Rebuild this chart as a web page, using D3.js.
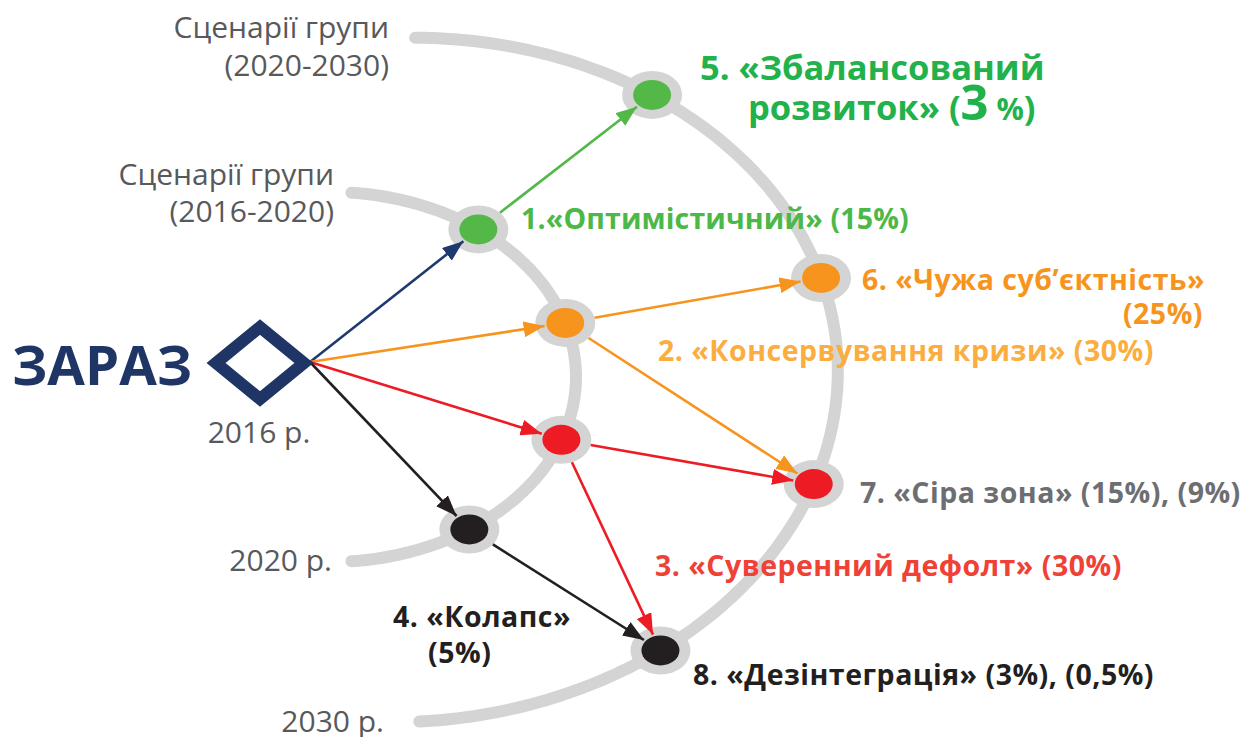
<!DOCTYPE html>
<html>
<head>
<meta charset="utf-8">
<script src="https://cdn.jsdelivr.net/npm/d3@7"></script>
<style>
  body { margin: 0; background: #fff; }
  text { font-family: "Open Sans", sans-serif; }
</style>
</head>
<body>
<div id="chart"></div>
<script>
// ---- data ----
const scenarioIds = [1, 2, 3, 4, 5, 6, 7, 8];
const scenarioGroup = [0, 0, 0, 0, 1, 1, 1, 1];   // 0: 2016-2020, 1: 2020-2030
const scenarioLabels = [
  ["1.«Оптимістичний» (15%)"],
  ["2. «Консервування кризи» (30%)"],
  ["3. «Суверенний дефолт» (30%)"],
  ["4. «Колапс»", "(5%)"],
  ["5. «Збалансований", "розвиток» (3 %)"],
  ["6. «Чужа суб’єктність»", "(25%)"],
  ["7. «Сіра зона» (15%), (9%)"],
  ["8. «Дезінтеграція» (3%), (0,5%)"]
];
const linkSource = [0, 0, 0, 0, 1, 2, 2, 3, 3, 4];  // 0 = ЗАРАЗ
const linkTarget = [1, 2, 3, 4, 5, 6, 7, 7, 8, 8];
const groupTitles = [["Сценарії групи", "(2016-2020)"], ["Сценарії групи", "(2020-2030)"]];
const yearLabels = ["2016 р.", "2020 р.", "2030 р."];
const startLabel = "ЗАРАЗ";

// ---- layout / style ----
const W = 1250, H = 737;
const rings = [
  { cx: 330, cy: 377, rx: 246, ry: 185, rot: 0, from: -85, to: 85 },
  { cx: 402, cy: 380, rx: 436, ry: 342, rot: -2.9, from: -86, to: 90 }
];
const nodeAngle = [-52.9, -17.0, 19.85, 55.5, -52.7, -13.65, 21.4, 55.9];
const nodeColor = ["#53b848", "#f7941d", "#ed1c24", "#231f20", "#53b848", "#f7941d", "#ed1c24", "#231f20"];
const labelColor = ["#4cb848", "#fbad3f", "#ef4136", "#231f20", "#22b24c", "#f7941d", "#6d6e71", "#231f20"];
const linkColor = ["#1f3a6e", "#f7941d", "#ed1c24", "#231f20", "#53b848", "#f7941d", "#f7941d", "#ed1c24", "#ed1c24", "#231f20"];
const labelPos = [
  { x: [521], y: [229], anchor: ["start"] },
  { x: [658], y: [361], anchor: ["start"] },
  { x: [655], y: [576], anchor: ["start"] },
  { x: [393, 428], y: [627, 663], anchor: ["start", "start"] },
  { x: [700, 748], y: [80, 120], anchor: ["start", "start"] },
  { x: [862, 1203], y: [290, 324], anchor: ["start", "end"] },
  { x: [860], y: [503], anchor: ["start"] },
  { x: [693], y: [685], anchor: ["start"] }
];
const labelSpacing = [0.15, 0.5, 0.5, 0.5, 0, 0.5, 0.5, 0.5];
const root = { cx: 260, cy: 363, hw: 44, hh: 36, out: [310, 362] };
const navy = "#1f3566", grayArc = "#d4d4d4", grayText = "#58595b";
const fillR = [19, 15], haloR = [30, 24];

const svg = d3.select("#chart").append("svg")
  .attr("width", W).attr("height", H);

function ringPoint(ring, deg) {
  const xs = d3.scaleLinear().domain([-1, 1]).range([ring.cx - ring.rx, ring.cx + ring.rx]);
  const ys = d3.scaleLinear().domain([-1, 1]).range([ring.cy - ring.ry, ring.cy + ring.ry]);
  const t = deg * Math.PI / 180, r = ring.rot * Math.PI / 180;
  const x0 = xs(Math.cos(t)) - ring.cx, y0 = ys(Math.sin(t)) - ring.cy;
  return [ring.cx + x0 * Math.cos(r) - y0 * Math.sin(r),
          ring.cy + x0 * Math.sin(r) + y0 * Math.cos(r)];
}

// arcs
const arcLine = d3.line().curve(d3.curveCatmullRom);
svg.append("g").selectAll("path")
  .data(rings)
  .join("path")
  .attr("d", d => arcLine(d3.range(d.from, d.to + 0.01, 1).map(a => ringPoint(d, a))))
  .attr("fill", "none")
  .attr("stroke", grayArc)
  .attr("stroke-width", 12)
  .attr("stroke-linecap", "round");

const nodes = scenarioIds.map((id, i) => {
  const p = ringPoint(rings[scenarioGroup[i]], nodeAngle[i]);
  return { id: id, i: i, x: p[0], y: p[1] };
});

// nodes
const nodeG = svg.append("g");
nodeG.selectAll(".halo")
  .data(nodes)
  .join("ellipse")
  .attr("class", "halo")
  .attr("cx", d => d.x).attr("cy", d => d.y)
  .attr("rx", haloR[0]).attr("ry", haloR[1])
  .attr("fill", grayArc);
nodeG.selectAll(".dot")
  .data(nodes)
  .join("ellipse")
  .attr("class", "dot")
  .attr("cx", d => d.x).attr("cy", d => d.y)
  .attr("rx", fillR[0]).attr("ry", fillR[1])
  .attr("fill", d => nodeColor[d.i]);

// arrow markers
const defs = svg.append("defs");
linkColor.forEach((c, i) => {
  defs.append("marker")
    .attr("id", "arrow" + i)
    .attr("viewBox", "0 0 21 16")
    .attr("refX", 21).attr("refY", 8)
    .attr("markerWidth", 21).attr("markerHeight", 16)
    .attr("markerUnits", "userSpaceOnUse")
    .attr("orient", "auto")
    .append("path")
    .attr("d", "M0,0L21,8L0,16Z")
    .attr("fill", c);
});

function ellipseDist(dx, dy, r) {
  return 1 / Math.sqrt((dx / r[0]) ** 2 + (dy / r[1]) ** 2);
}

const links = linkSource.map((s, i) => {
  const t = nodes[linkTarget[i] - 1];
  let sx, sy;
  if (s === 0) { sx = root.out[0]; sy = root.out[1]; }
  else { sx = nodes[s - 1].x; sy = nodes[s - 1].y; }
  const len = Math.hypot(t.x - sx, t.y - sy);
  const dx = (t.x - sx) / len, dy = (t.y - sy) / len;
  const startOff = s === 0 ? 0 : ellipseDist(dx, dy, haloR);
  const endOff = ellipseDist(dx, dy, fillR) + 2;
  return { i: i, x1: sx + dx * startOff, y1: sy + dy * startOff, x2: t.x - dx * endOff, y2: t.y - dy * endOff };
});

svg.append("g").selectAll("line")
  .data(links)
  .join("line")
  .attr("x1", d => d.x1).attr("y1", d => d.y1)
  .attr("x2", d => d.x2).attr("y2", d => d.y2)
  .attr("stroke", d => linkColor[d.i])
  .attr("stroke-width", 2.6)
  .attr("marker-end", d => "url(#arrow" + d.i + ")");

// diamond "now"
svg.append("path")
  .attr("d", d3.line()([[root.cx - root.hw, root.cy], [root.cx, root.cy - root.hh],
                        [root.cx + root.hw, root.cy], [root.cx, root.cy + root.hh]]) + "Z")
  .attr("fill", "none")
  .attr("stroke", navy)
  .attr("stroke-width", 12)
  .attr("stroke-linejoin", "miter");

svg.append("text")
  .attr("x", 12).attr("y", 385)
  .attr("font-size", 54.5).attr("font-weight", 700)
  .attr("fill", navy)
  .text(startLabel);

// group titles
const titlePos = [{ x: 334, y: [185, 222] }, { x: 389, y: [38, 76] }];
groupTitles.forEach((lines, g) => {
  lines.forEach((ln, k) => {
    svg.append("text")
      .attr("x", titlePos[g].x).attr("y", titlePos[g].y[k])
      .attr("text-anchor", "end")
      .attr("font-size", 30)
      .attr("fill", grayText)
      .text(ln);
  });
});

// year labels
const yearPos = [{ x: 259, y: 443, a: "middle" }, { x: 332, y: 571, a: "end" }, { x: 384, y: 732, a: "end" }];
yearLabels.forEach((t, i) => {
  svg.append("text")
    .attr("x", yearPos[i].x).attr("y", yearPos[i].y)
    .attr("text-anchor", yearPos[i].a)
    .attr("font-size", 30)
    .attr("fill", grayText)
    .text(t);
});

// scenario labels
scenarioLabels.forEach((lines, i) => {
  const size = i === 4 ? 34.5 : 28.5;
  lines.forEach((ln, k) => {
    const txt = svg.append("text")
      .attr("x", labelPos[i].x[k]).attr("y", labelPos[i].y[k])
      .attr("text-anchor", labelPos[i].anchor[k])
      .attr("font-size", size).attr("font-weight", 700)
      .attr("letter-spacing", labelSpacing[i])
      .attr("fill", labelColor[i]);
    const m = ln.match(/^(.*\()(\d+)( %)(\))$/);
    if (m) {
      txt.append("tspan").text(m[1]);
      txt.append("tspan").attr("font-size", size * 1.42).text(m[2]);
      txt.append("tspan").attr("font-size", size * 0.88).text(m[3]);
      txt.append("tspan").text(m[4]);
    } else {
      txt.text(ln);
    }
  });
});
</script>
</body>
</html>
